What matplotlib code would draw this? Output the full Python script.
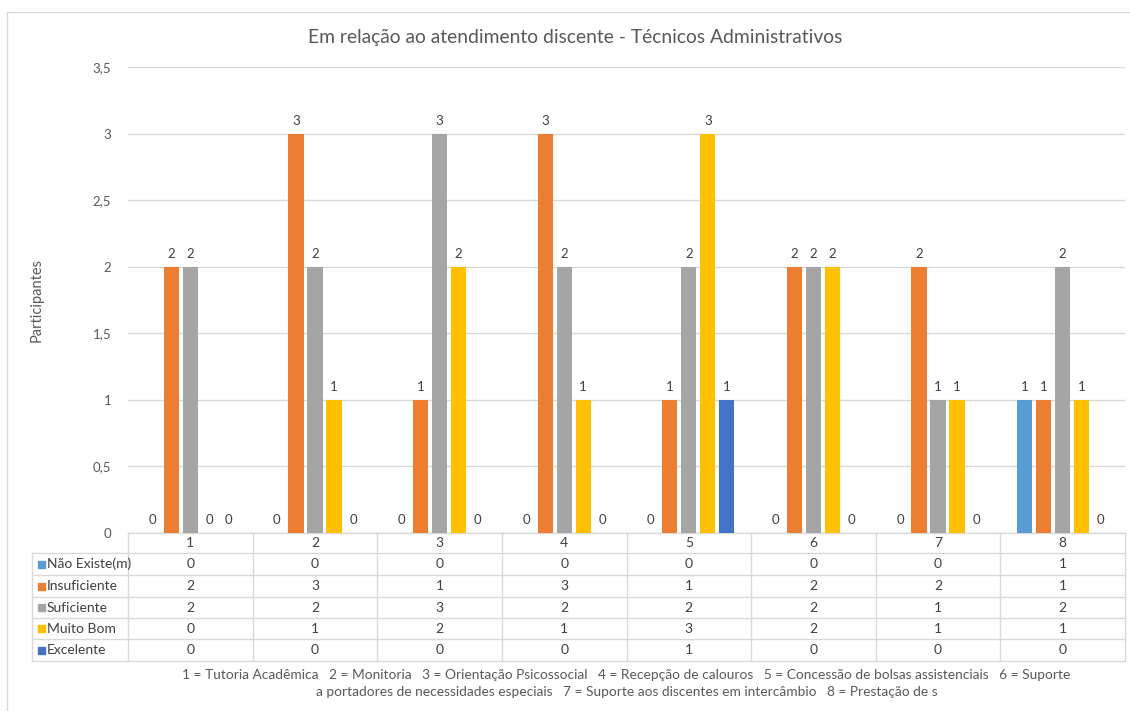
import numpy as np
import matplotlib.pyplot as plt
from matplotlib.patches import Rectangle
from matplotlib.lines import Line2D

plt.rcParams['font.family'] = ['Lato', 'DejaVu Sans']

# data
categories = ['1', '2', '3', '4', '5', '6', '7', '8']
series_names = ['Não Existe(m)', 'Insuficiente', 'Suficiente', 'Muito Bom', 'Excelente']
nao_existe = [0, 0, 0, 0, 0, 0, 0, 1]
insuficiente = [2, 3, 1, 3, 1, 2, 2, 1]
suficiente = [2, 2, 3, 2, 2, 2, 1, 2]
muito_bom = [0, 1, 2, 1, 3, 2, 1, 1]
excelente = [0, 0, 0, 0, 1, 0, 0, 0]
series_values = [nao_existe, insuficiente, suficiente, muito_bom, excelente]
colors = ['#5B9BD5', '#ED7D31', '#A5A5A5', '#FFC000', '#4472C4']

title = 'Em relação ao atendimento discente - Técnicos Administrativos'
caption1 = ('1 = Tutoria Acadêmica   2 = Monitoria   3 = Orientação Psicossocial   '
            '4 = Recepção de calouros   5 = Concessão de bolsas assistenciais   6 = Suporte')
caption2 = 'a portadores de necessidades especiais   7 = Suporte aos discentes em intercâmbio   8 = Prestação de s'

W, H = 1130, 711
fig = plt.figure(figsize=(W / 100, H / 100), dpi=100)

def fx(p):
    return p / W

def fy(p):
    return 1 - p / H

ax_l, ax_r, ax_t, ax_b = 128, 1125, 67, 533
ax = fig.add_axes([fx(ax_l), fy(ax_b), fx(ax_r - ax_l), (ax_b - ax_t) / H])

grid_c = '#D9D9D9'
txt_c = '#404040'
tick_c = '#595959'

x = np.arange(len(categories))
bw = 0.123
pitch = 0.1525
for i, (vals, c) in enumerate(zip(series_values, colors)):
    xs = x + (i - 2) * pitch
    ax.bar(xs, vals, width=bw, color=c, zorder=3)
    for xx, v in zip(xs, vals):
        ax.annotate(str(v), (xx, v), xytext=(0, 5), textcoords='offset points',
                    ha='center', va='bottom', fontsize=9.5, color=txt_c)

ax.set_xlim(-0.5, len(categories) - 0.5)
ax.set_ylim(0, 3.5)
yt = [0, 0.5, 1, 1.5, 2, 2.5, 3, 3.5]
ax.set_yticks(yt)
ax.set_yticklabels([('%g' % v).replace('.', ',') for v in yt], fontsize=9.5, color=tick_c)
ax.tick_params(axis='y', length=0, pad=12)
ax.set_xticks([])
for s in ax.spines.values():
    s.set_visible(False)
ax.grid(axis='y', color=grid_c, lw=1, zorder=0)
ax.set_axisbelow(True)

# data table below the axis
tr = ax.get_xaxis_transform()
ax_h = ax_b - ax_t
def ya(p):
    return (ax_b - p) / ax_h

row_lines = [533.3, 553.3, 575, 597.3, 618.3, 639.3, 660.7]
left_hdr = -0.5 - (ax_l - 32) / ((ax_r - ax_l) / len(categories))
n = len(categories)

# horizontal lines
ax.add_line(Line2D([-0.5, n - 0.5], [ya(row_lines[0])] * 2, transform=tr, color=grid_c, lw=1, clip_on=False))
for yp in row_lines[1:]:
    ax.add_line(Line2D([left_hdr, n - 0.5], [ya(yp)] * 2, transform=tr, color=grid_c, lw=1, clip_on=False))
# vertical lines
for b in np.arange(n + 1) - 0.5:
    ax.add_line(Line2D([b, b], [ya(row_lines[0]), ya(row_lines[-1])], transform=tr, color=grid_c, lw=1, clip_on=False))
ax.add_line(Line2D([left_hdr, left_hdr], [ya(row_lines[1]), ya(row_lines[-1])], transform=tr, color=grid_c, lw=1, clip_on=False))

# header row
for i, c in enumerate(categories):
    ax.text(i, ya((row_lines[0] + row_lines[1]) / 2), c, transform=tr, ha='center', va='center',
            fontsize=10, color=txt_c, clip_on=False)

px_per_cat = (ax_r - ax_l) / n
for r, (name, vals, col) in enumerate(zip(series_names, series_values, colors)):
    yc = ya((row_lines[r + 1] + row_lines[r + 2]) / 2)
    kx = left_hdr + 5.5 / px_per_cat
    ax.add_patch(Rectangle((kx, yc - 3.5 / ax_h), 7 / px_per_cat, 7 / ax_h, transform=tr,
                           color=col, clip_on=False))
    ax.text(left_hdr + 15 / px_per_cat, yc, name, transform=tr, ha='left', va='center',
            fontsize=10, color=txt_c, clip_on=False)
    for i, v in enumerate(vals):
        ax.text(i, yc, str(v), transform=tr, ha='center', va='center', fontsize=10,
                color=txt_c, clip_on=False)

# captions
cx = fx((ax_l + ax_r) / 2)
fig.text(cx, fy(675), caption1, ha='center', va='center', fontsize=9.9, color=tick_c)
fig.text(cx, fy(692), caption2, ha='center', va='center', fontsize=9.9, color=tick_c)

fig.text(fx(575), fy(38), title, ha='center', va='center', fontsize=13.9, color=tick_c)
fig.text(fx(37), fy(300), 'Participantes', rotation=90, ha='center', va='center', fontsize=10.5, color=tick_c)

# chart border
fig.add_artist(Line2D([fx(7), fx(7)], [fy(12), 0], color=grid_c, lw=1))
fig.add_artist(Line2D([fx(7), 1], [fy(12), fy(12)], color=grid_c, lw=1))

fig.savefig('out.png', dpi=100)
